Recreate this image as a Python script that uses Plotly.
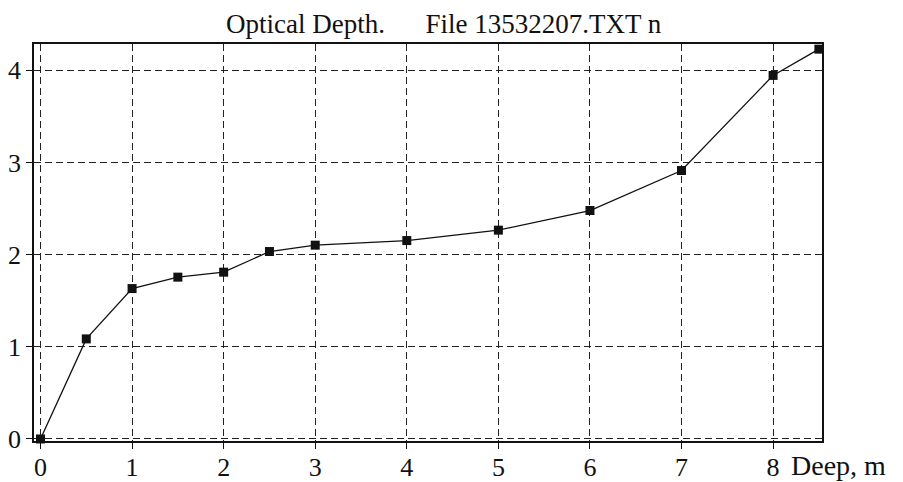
import plotly.graph_objects as go

# Optical depth profile versus depth
depth_m = [0, 0.5, 1, 1.5, 2, 2.5, 3, 4, 5, 6, 7, 8, 8.5]
optical_depth = [0.0, 1.086, 1.632, 1.756, 1.81, 2.034, 2.103, 2.153, 2.266, 2.479, 2.913, 3.945, 4.23]

x_ticks = [0, 1, 2, 3, 4, 5, 6, 7, 8]
y_ticks = [0, 1, 2, 3, 4]

title_text = "Optical Depth." + "\u00a0" * 6 + "File 13532207.TXT n"
x_label = "Deep, m"

FONT = "Liberation Serif, Times New Roman, serif"
FS = 26

fig = go.Figure()
fig.add_trace(go.Scatter(
    x=depth_m, y=optical_depth,
    mode="lines+markers",
    line=dict(color="#111111", width=1.3),
    marker=dict(symbol="square", size=9, color="#111111"),
    cliponaxis=False,
    showlegend=False,
))

axis_common = dict(
    showline=True, mirror=True, linecolor="#111111", linewidth=1.5,
    showgrid=True, gridcolor="#222222", gridwidth=1, griddash="7px,4px",
    zeroline=False, automargin=False,
    ticks="outside", ticklen=6, tickcolor="#111111", tickwidth=1,
    tickfont=dict(family=FONT, size=FS, color="#111111"),
)

fig.update_xaxes(range=[-0.071, 8.534], tickvals=x_ticks, ticktext=[str(v) for v in x_ticks],
                 ticklabelstandoff=-4, **axis_common)
fig.update_yaxes(range=[-0.022, 4.286], tickvals=y_ticks, ticktext=[str(v) for v in y_ticks],
                 **axis_common)

fig.add_annotation(
    text=title_text, xref="paper", yref="paper", x=0.52, y=1.05,
    xanchor="center", yanchor="middle", showarrow=False,
    font=dict(family=FONT, size=27, color="#111111"),
)
fig.add_annotation(
    text=x_label, xref="paper", yref="paper", x=1.0, y=-0.061,
    xanchor="left", yanchor="middle", xshift=-33, showarrow=False,
    font=dict(family=FONT, size=28, color="#111111"),
)

fig.update_layout(
    width=903, height=482,
    margin=dict(l=34, r=81, t=44, b=41, autoexpand=False),
    paper_bgcolor="white", plot_bgcolor="white",
)

fig.write_html("out.html")
